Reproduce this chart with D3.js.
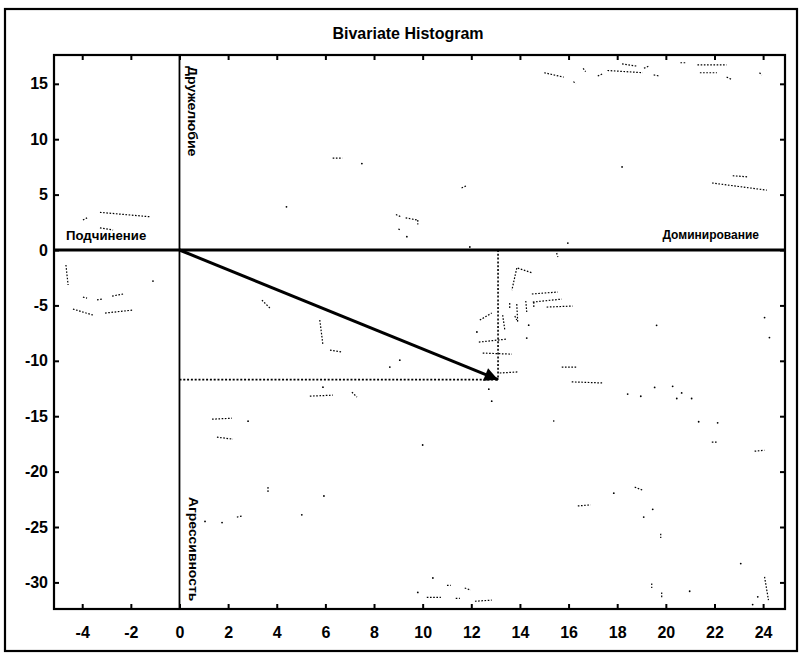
<!DOCTYPE html>
<html>
<head>
<meta charset="utf-8">
<script src="https://cdn.jsdelivr.net/npm/d3@7"></script>
<style>
  html, body { margin: 0; padding: 0; background: #fff; }
  svg { display: block; }
  text { font-family: "Liberation Sans", Arial, sans-serif; }
</style>
</head>
<body>
<svg id="chart" width="802" height="656"></svg>
<script>
// ---------- data ----------
const title = "Bivariate Histogram";
const xTicks = [-4, -2, 0, 2, 4, 6, 8, 10, 12, 14, 16, 18, 20, 22, 24];
const yTicks = [-30, -25, -20, -15, -10, -5, 0, 5, 10, 15];
const xDomain = [-5.16, 24.9];
const yDomain = [-32.4, 17.6];
const axisLabelLeft = "Подчинение";
const axisLabelRight = "Доминирование";
const axisLabelTop = "Дружелюбие";
const axisLabelBottom = "Агрессивность";
// resulting vector (dominance, friendliness)
const vectorPoint = [13.1, -11.7];
// faint dotted histogram traces: [x1, y1, x2, y2]
const traceSegments = [
  [15.0,16.0,15.8,15.6],[16.2,15.2,16.3,15.0],[16.6,16.4,16.7,16.1],[17.2,15.7,17.4,15.9],
  [17.6,16.2,19.05,16.0],[18.2,16.8,18.8,16.6],[19.1,16.4,19.3,16.6],[19.5,15.8,19.75,15.7],
  [20.6,16.9,20.8,16.9],[21.3,16.7,22.5,16.7],[21.4,16.0,22.1,16.0],[22.5,15.6,22.7,15.4],
  [23.85,16.0,23.95,15.8],[22.75,6.7,23.4,6.6],[21.9,6.05,24.15,5.4],
  [6.3,8.3,6.7,8.3],[11.6,5.6,11.8,5.8],[8.9,3.2,9.1,3.0],[9.3,2.9,9.8,2.7],[9.8,2.7,9.8,2.3],
  [9.0,1.9,9.1,1.8],
  [-3.27,3.4,-1.21,3.0],[-3.97,2.7,-3.8,2.9],[-3.27,2.0,-2.73,1.8],
  [-4.67,-1.35,-4.58,-3.16],[-3.97,-4.25,-3.8,-4.34],[-3.39,-4.5,-3.19,-4.43],
  [-2.77,-4.16,-2.32,-3.97],[-4.38,-5.33,-3.56,-5.87],[-3.06,-5.69,-1.91,-5.42],
  [13.87,-1.63,13.67,-3.61],[13.91,-1.63,14.53,-2.08],[14.49,-3.97,15.56,-3.79],
  [14.53,-4.7,15.72,-4.43],[14.57,-4.7,14.57,-5.24],[15.1,-5.15,16.17,-5.06],
  [13.58,-4.79,13.58,-5.24],[13.87,-4.88,13.91,-6.59],[14.24,-4.6,14.28,-5.6],
  [12.35,-6.32,12.84,-5.69],[13.29,-5.87,13.38,-7.23],[13.79,-5.96,13.87,-6.32],
  [12.31,-8.31,13.46,-8.04],[12.47,-9.3,13.67,-9.4],[13.17,-11.1,13.95,-11.0],
  [15.72,-10.57,16.34,-10.57],[16.13,-11.9,17.4,-12.0],[15.51,-0.27,15.56,-0.63],
  [5.77,-6.32,5.9,-8.58],[6.19,-9.03,6.68,-9.21],[3.39,-4.52,3.72,-5.24],
  [5.36,-13.19,6.31,-13.1],[7.09,-12.83,7.3,-13.28],[1.34,-15.27,2.16,-15.18],
  [1.54,-16.89,2.2,-17.07],[3.64,-21.4,3.64,-21.95],[2.36,-24.1,2.61,-24.0],
  [11.0,-30.26,11.16,-30.26],[11.73,-30.5,11.98,-30.7],[10.17,-31.35,10.75,-31.35],
  [11.36,-31.44,11.53,-31.44],[12.15,-31.7,12.84,-31.6],
  [15.39,-15.36,15.39,-15.63],[21.89,-17.34,22.09,-17.34],[23.65,-18.16,24.06,-18.07],
  [18.72,-21.4,19.05,-21.68],[16.38,-23.1,16.91,-23.0],[19.79,-25.6,19.79,-26.0],
  [24.06,-29.5,24.22,-31.6],[19.42,-30.1,19.42,-30.5],[19.83,-30.9,19.83,-31.35]
];
// isolated dots: [x, y]
const traceDots = [
  [18.2,7.5],[7.5,7.8],[4.4,3.9],[9.35,1.2],[-1.09,-2.8],
  [12.23,-7.4],[14.36,-6.78],[14.28,-7.95],[8.65,-10.57],[9.06,-9.94],[12.72,-12.56],
  [11.94,0.27],[15.97,0.63],[5.9,-12.38],[2.82,-15.45],[5.94,-22.2],[5.03,-23.9],
  [1.05,-24.5],[1.75,-24.6],[10.0,-17.6],[12.84,-13.64],[10.42,-29.6],[9.8,-30.9],
  [18.43,-13.0],[18.97,-13.2],[19.54,-12.4],[20.28,-12.3],[20.65,-12.9],[20.45,-13.4],
  [21.06,-13.4],[21.35,-15.5],[22.13,-15.6],[17.86,-21.95],[19.46,-23.4],[19.09,-24.1],
  [23.08,-28.3],[23.78,-31.3],[20.98,-30.8],[23.57,-32.0],[19.62,-6.8],[24.06,-6.1],[24.26,-7.9]
];

// ---------- layout ----------
const svg = d3.select("#chart");
const plot = { left: 54, right: 785, top: 55, bottom: 609 };
const x = d3.scaleLinear().domain(xDomain).range([plot.left, plot.right]);
const y = d3.scaleLinear().domain(yDomain).range([plot.bottom, plot.top]);

// outer frame
svg.append("rect").attr("x", 5).attr("y", 9).attr("width", 792).attr("height", 642)
  .attr("fill", "none").attr("stroke", "#000").attr("stroke-width", 2.2);

// title
svg.append("text").attr("x", 408).attr("y", 39).attr("text-anchor", "middle")
  .attr("font-size", 16).attr("font-weight", "bold").text(title);

// traces
const tg = svg.append("g");
tg.selectAll("line.trace").data(traceSegments).join("line").attr("class", "trace")
  .attr("x1", d => x(d[0])).attr("y1", d => y(d[1]))
  .attr("x2", d => x(d[2])).attr("y2", d => y(d[3]))
  .attr("stroke", "#000").attr("stroke-width", 1.2).attr("stroke-dasharray", "1.6,1.6");
tg.selectAll("circle.dot").data(traceDots).join("circle").attr("class", "dot")
  .attr("cx", d => x(d[0])).attr("cy", d => y(d[1])).attr("r", 0.9).attr("fill", "#000");

// axes
const fmt = d => d3.format("d")(d).replace("−", "-");
const gx = svg.append("g").attr("transform", `translate(0,${plot.bottom})`)
  .call(d3.axisBottom(x).tickValues(xTicks).tickSizeInner(-5).tickSizeOuter(0).tickPadding(18).tickFormat(fmt));
const gy = svg.append("g").attr("transform", `translate(${plot.left},0)`)
  .call(d3.axisLeft(y).tickValues(yTicks).tickSizeInner(-5).tickSizeOuter(0).tickPadding(6).tickFormat(fmt));
const gxt = svg.append("g").attr("transform", `translate(0,${plot.top})`)
  .call(d3.axisTop(x).tickValues(xTicks).tickSizeInner(-5).tickSizeOuter(0).tickFormat(""));
const gyr = svg.append("g").attr("transform", `translate(${plot.right},0)`)
  .call(d3.axisRight(y).tickValues(yTicks).tickSizeInner(-5).tickSizeOuter(0).tickFormat(""));
[gx, gy, gxt, gyr].forEach(g => {
  g.select(".domain").remove();
  g.selectAll(".tick line").attr("stroke", "#000").attr("stroke-width", 2);
  g.selectAll("text").attr("font-family", "'Liberation Sans', Arial, sans-serif")
    .attr("font-size", 16).attr("font-weight", "bold").attr("fill", "#000");
});

// plot border
svg.append("rect").attr("x", plot.left).attr("y", plot.top)
  .attr("width", plot.right - plot.left).attr("height", plot.bottom - plot.top)
  .attr("fill", "none").attr("stroke", "#000").attr("stroke-width", 2.2);

// zero lines
svg.append("line").attr("x1", x(0)).attr("x2", x(0)).attr("y1", plot.top).attr("y2", plot.bottom)
  .attr("stroke", "#000").attr("stroke-width", 1.8);
svg.append("line").attr("x1", plot.left).attr("x2", plot.right).attr("y1", y(0)).attr("y2", y(0))
  .attr("stroke", "#000").attr("stroke-width", 3);

// dotted projections
svg.append("line").attr("x1", x(vectorPoint[0])).attr("x2", x(vectorPoint[0]))
  .attr("y1", y(0)).attr("y2", y(vectorPoint[1]))
  .attr("stroke", "#000").attr("stroke-width", 1.6).attr("stroke-dasharray", "2,1.8");
svg.append("line").attr("x1", x(0)).attr("x2", x(vectorPoint[0]))
  .attr("y1", y(vectorPoint[1])).attr("y2", y(vectorPoint[1]))
  .attr("stroke", "#000").attr("stroke-width", 1.6).attr("stroke-dasharray", "2,1.8");

// arrow
svg.append("defs").append("marker").attr("id", "ah")
  .attr("viewBox", "0 0 10 10").attr("refX", 10).attr("refY", 5)
  .attr("markerWidth", 6.5).attr("markerHeight", 4.5).attr("markerUnits", "strokeWidth")
  .attr("orient", "auto")
  .append("path").attr("d", "M0,0 L10,5 L0,10 Z").attr("fill", "#000");
svg.append("line").attr("x1", x(0)).attr("y1", y(0))
  .attr("x2", x(vectorPoint[0])).attr("y2", y(vectorPoint[1]))
  .attr("stroke", "#000").attr("stroke-width", 3).attr("marker-end", "url(#ah)");

// quadrant labels
const lab = (t) => svg.append("text").attr("font-size", 12).attr("font-weight", "bold").text(t);
lab(axisLabelLeft).attr("transform", "translate(66,240) scale(1.1,1)");
lab(axisLabelRight).attr("x", 759).attr("y", 239).attr("text-anchor", "end");
lab(axisLabelTop).attr("transform", "translate(188,66) rotate(90) scale(1.18,1)");
lab(axisLabelBottom).attr("transform", "translate(189,497) rotate(90) scale(1.16,1)");
</script>
</body>
</html>
